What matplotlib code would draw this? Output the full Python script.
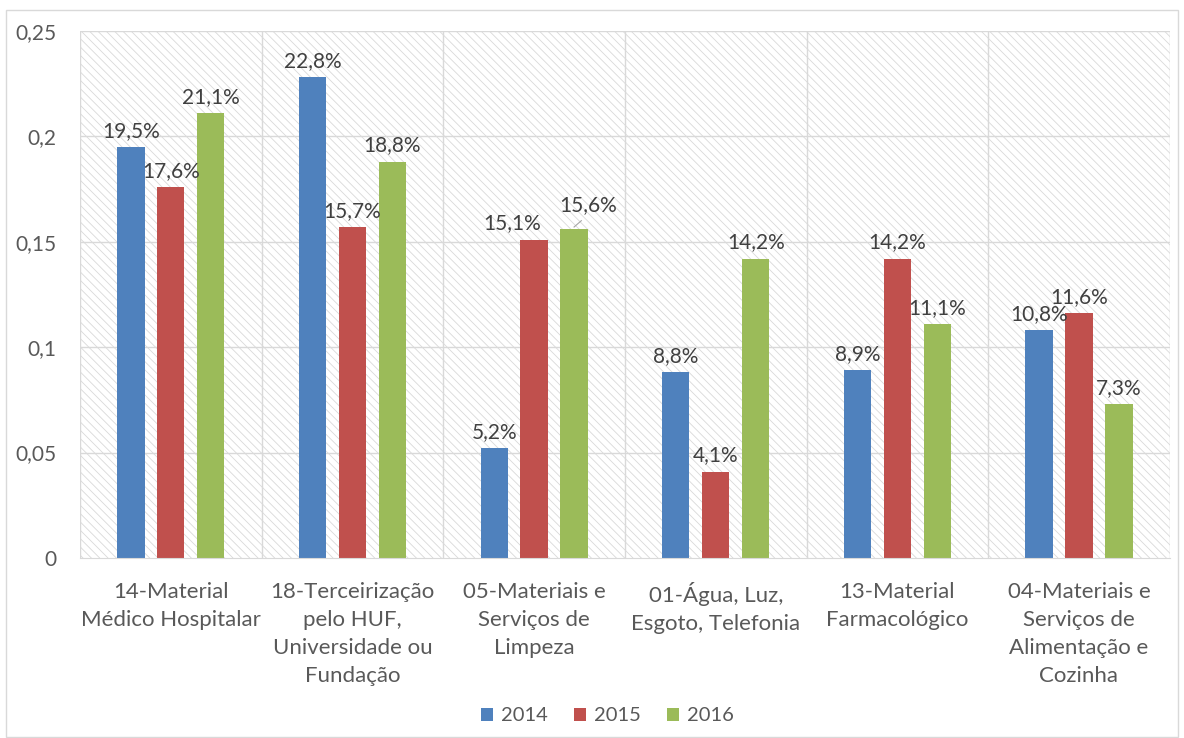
import matplotlib.pyplot as plt
import numpy as np
from matplotlib.patches import Rectangle

plt.rcParams['font.family'] = ['Lato', 'DejaVu Sans']
plt.rcParams['hatch.linewidth'] = 0.6
plt.rcParams['hatch.color'] = '#d9d9d9'

categories = ['14-Material\nMédico Hospitalar',
              '18-Terceirização\npelo HUF,\nUniversidade ou\nFundação',
              '05-Materiais e\nServiços de\nLimpeza',
              '01-Água, Luz,\nEsgoto, Telefonia',
              '13-Material\nFarmacológico',
              '04-Materiais e\nServiços de\nAlimentação e\nCozinha']
years = ['2014', '2015', '2016']
v2014 = [0.195, 0.228, 0.052, 0.088, 0.089, 0.108]
v2015 = [0.176, 0.157, 0.151, 0.041, 0.142, 0.116]
v2016 = [0.211, 0.188, 0.156, 0.142, 0.111, 0.073]
colors = ['#4F81BD', '#C0504D', '#9BBB59']
text_c = '#595959'

fig = plt.figure(figsize=(11.84, 7.38), dpi=100)
ax = fig.add_axes([0.0676, 0.244, 0.9204, 0.714])

x = np.arange(len(categories))
w = 0.15
ax.set_xlim(-0.5, len(categories) - 0.5)
ax.set_ylim(0, 0.25)

# hatched background
ax.add_patch(Rectangle((-0.5, 0), len(categories), 0.25, facecolor='white',
                       edgecolor='#d9d9d9', hatch='\\\\\\\\', lw=0, zorder=0))

for yv in np.arange(0.05, 0.26, 0.05):
    ax.axhline(yv, color='#d9d9d9', lw=1, zorder=1)
for xv in np.arange(-0.5, len(categories), 1):
    ax.axvline(xv, color='#d9d9d9', lw=1, zorder=1)

for i, (vals, yr) in enumerate(zip([v2014, v2015, v2016], years)):
    xs = x + (i - 1) * 0.22
    ax.bar(xs, vals, w, color=colors[i], label=yr, zorder=2)
    for j, (xx, v) in enumerate(zip(xs, vals)):
        lx, ly = xx, v + 0.003
        # the two crowded labels in Limpeza were nudged apart in the original
        if j == 2 and i == 1:
            lx -= 0.12
        if j == 2 and i == 2:
            lx += 0.08
            ly += 0.0035
            ax.plot([xx, xx + 0.04], [v + 0.001, v + 0.004], color='#a6a6a6', lw=0.8, zorder=3)
        ax.text(lx, ly, f'{v*100:.1f}%'.replace('.', ','), ha='center', va='bottom',
                fontsize=15, color='#404040', zorder=3)

ax.set_xticks(x)
ax.set_xticklabels(categories, fontsize=16, color=text_c, linespacing=1.5, va='top')
ticks = [0, 0.05, 0.1, 0.15, 0.2, 0.25]
ax.set_yticks(ticks)
ax.set_yticklabels(['0', '0,05', '0,1', '0,15', '0,2', '0,25'], fontsize=15, color=text_c)
ax.tick_params(length=0)
ax.tick_params(axis='x', pad=17)
ax.tick_params(axis='y', pad=17)
for s in ['top', 'right', 'left']:
    ax.spines[s].set_visible(False)
ax.spines['bottom'].set_color('#d9d9d9')

fig.legend(loc='lower center', bbox_to_anchor=(0.513, -0.006), ncol=3, frameon=False,
           fontsize=14.5, handlelength=0.6, handleheight=0.6, columnspacing=1.3,
           handletextpad=0.4, labelcolor=text_c)

fig.add_artist(Rectangle((0.005, 0.002), 0.99, 0.985, transform=fig.transFigure,
                         fill=False, edgecolor='#d9d9d9', lw=1))

fig.savefig('out.png', dpi=100)
